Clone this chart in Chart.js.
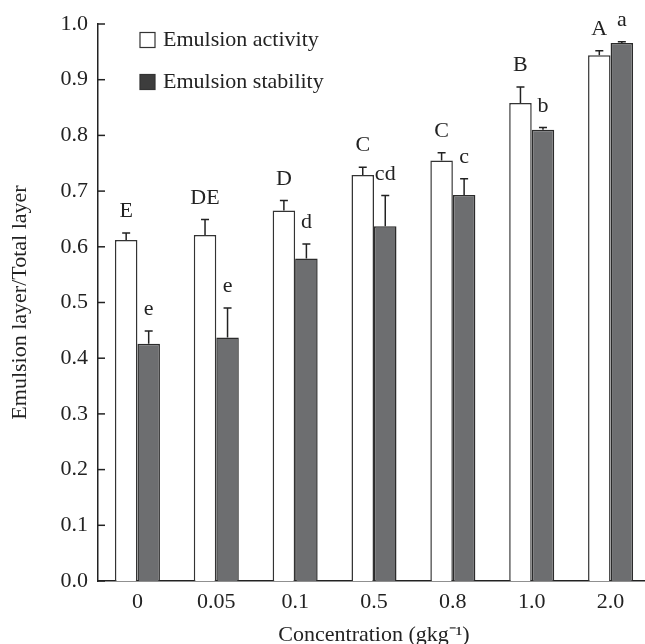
<!DOCTYPE html>
<html><head><meta charset="utf-8">
<script src="https://cdn.jsdelivr.net/npm/chart.js@4.4.1/dist/chart.umd.min.js"></script>
<style>
html,body{margin:0;padding:0;background:#fff;overflow:hidden;}
#outer{width:645px;height:644px;overflow:hidden;position:relative;}
#c{display:block;}
</style></head><body>
<div id="outer"><canvas id="c" width="652" height="644"></canvas></div>
<script>
const categories = ['0', '0.05', '0.1', '0.5', '0.8', '1.0', '2.0'];
const activity = [0.612, 0.621, 0.665, 0.729, 0.755, 0.858, 0.944];
const activityErr = [0.013, 0.028, 0.018, 0.014, 0.014, 0.029, 0.008];
const stability = [0.426, 0.437, 0.579, 0.637, 0.693, 0.810, 0.966];
const stabilityErr = [0.023, 0.053, 0.026, 0.055, 0.029, 0.004, 0.002];
const activityLetters = ['E', 'DE', 'D', 'C', 'C', 'B', 'A'];
const stabilityLetters = ['e', 'e', 'd', 'cd', 'c', 'b', 'a'];
const yTicks = [0.0, 0.1, 0.2, 0.3, 0.4, 0.5, 0.6, 0.7, 0.8, 0.9, 1.0];
const seriesNames = ['Emulsion activity', 'Emulsion stability'];

const FONT = '"Liberation Serif","Times New Roman",serif';
const INK = '#222';

const annot = {
  id: 'annot',
  afterDatasetsDraw(chart) {
    const ctx = chart.ctx, y = chart.scales.y, ca = chart.chartArea;
    const errs = [activityErr, stabilityErr];
    const letters = [activityLetters, stabilityLetters];
    ctx.save();
    chart.data.datasets.forEach((ds, di) => {
      const meta = chart.getDatasetMeta(di);
      meta.data.forEach((bar, i) => {
        const base = y.getPixelForValue(ds.data[i]);
        const top = y.getPixelForValue(ds.data[i] + errs[di][i]);
        ctx.strokeStyle = INK; ctx.lineWidth = 1.5;
        ctx.beginPath();
        ctx.moveTo(bar.x, base); ctx.lineTo(bar.x, top);
        ctx.moveTo(bar.x - 4, top); ctx.lineTo(bar.x + 4, top);
        ctx.stroke();
        ctx.fillStyle = INK;
        ctx.font = '22px ' + FONT;
        ctx.textAlign = 'center'; ctx.textBaseline = 'alphabetic';
        ctx.fillText(letters[di][i], bar.x, top - 16);
      });
    });
    // inward ticks on y axis
    ctx.strokeStyle = INK; ctx.lineWidth = 1.5;
    yTicks.forEach(v => {
      const py = y.getPixelForValue(v);
      ctx.beginPath(); ctx.moveTo(ca.left, py); ctx.lineTo(ca.left + 7, py); ctx.stroke();
    });
    // legend
    const rows = [40, 82];
    chart.data.datasets.forEach((ds, di) => {
      const cy = rows[di];
      ctx.fillStyle = di === 0 ? '#fff' : '#3d3d3d';
      ctx.fillRect(140, cy - 7.5, 15, 15);
      ctx.strokeStyle = '#333'; ctx.lineWidth = 1.2;
      ctx.strokeRect(140, cy - 7.5, 15, 15);
      ctx.fillStyle = INK;
      ctx.font = '22px ' + FONT;
      ctx.textAlign = 'left'; ctx.textBaseline = 'middle';
      ctx.fillText(ds.label, 163, cy);
    });
    ctx.restore();
  }
};

new Chart(document.getElementById('c'), {
  type: 'bar',
  data: {
    labels: categories,
    datasets: [
      { label: seriesNames[0], data: activity, backgroundColor: '#ffffff', borderColor: '#333', borderWidth: 1.5 },
      { label: seriesNames[1], data: stability, backgroundColor: '#6d6e70', borderColor: '#2b2b2b', borderWidth: 1.5 }
    ]
  },
  options: {
    responsive: false,
    animation: false,
    devicePixelRatio: 1,
    layout: { padding: { top: 24, right: 2, left: 0, bottom: 0 } },
    plugins: { legend: { display: false }, tooltip: { enabled: false } },
    datasets: { bar: { categoryPercentage: 0.571, barPercentage: 1 } },
    scales: {
      x: {
        grid: { display: false, drawTicks: false },
        border: { display: true, color: INK, width: 1.5 },
        ticks: { color: INK, font: { family: FONT, size: 22 }, padding: 8 },
        title: { display: true, text: 'Concentration (gkg\u207B\u00B9)', color: INK,
                 font: { family: FONT, size: 22, lineHeight: 0.8 }, padding: { top: 0, bottom: 0 } },
        afterFit(s) { s.height = 63; }
      },
      y: {
        min: 0, max: 1,
        grid: { display: false, drawTicks: false },
        border: { display: true, color: INK, width: 1.5 },
        ticks: { stepSize: 0.1, color: INK, padding: 10, font: { family: FONT, size: 22 },
                 callback: v => Number(v).toFixed(1) },
        title: { display: true, text: 'Emulsion layer/Total layer', color: INK,
                 font: { family: FONT, size: 22, lineHeight: 0.8 }, padding: { top: 11, bottom: 0 } },
        afterFit(s) { s.width = 98; }
      }
    }
  },
  plugins: [annot]
});
</script>
</body></html>
